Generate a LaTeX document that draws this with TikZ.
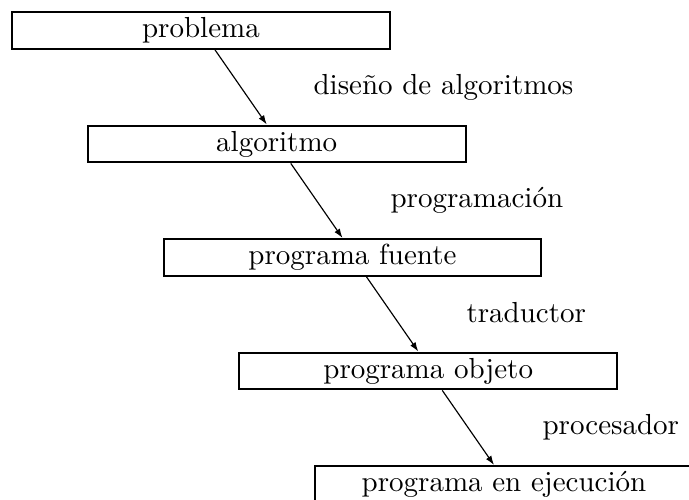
\documentclass[tikz,border=0pt]{standalone}
\usetikzlibrary{arrows.meta,calc}
\begin{document}
\begin{tikzpicture}[x=0.34483pt,y=-0.34483pt,
  stagebox/.style={draw,line width=0.7pt,anchor=north west,inner sep=0pt,
    minimum width=130.3pt,minimum height=12.7pt,
    text height=6.94pt,text depth=1.94pt},
  steplabel/.style={anchor=base west,inner sep=0pt},
  flow/.style={line width=0.4pt,-{Latex[length=3.2pt,width=2.2pt]}}]
\useasboundingbox (0,0) rectangle (689,499);
\node[stagebox] (b1) at (11,11) {problema};
\node[stagebox] (b2) at (86.75,124.5) {algoritmo};
\node[stagebox] (b3) at (162.5,238) {programa fuente};
\node[stagebox] (b4) at (238.25,351.5) {programa objeto};
\node[stagebox] (b5) at (314,465) {programa en ejecución};
\node[steplabel] (l1) at (313,94) {diseño de algoritmos};
\node[steplabel] (l2) at (390,207.5) {programación};
\node[steplabel] (l3) at (466,322) {traductor};
\node[steplabel] (l4) at (542,434) {procesador};
\draw[flow] ($(b1.south west)+(204,0)$) -- ($(b2.north west)+(180,0)$);
\draw[flow] ($(b2.south west)+(204,0)$) -- ($(b3.north west)+(180,0)$);
\draw[flow] ($(b3.south west)+(204,0)$) -- ($(b4.north west)+(180,0)$);
\draw[flow] ($(b4.south west)+(204,0)$) -- ($(b5.north west)+(180,0)$);
\end{tikzpicture}
\end{document}
